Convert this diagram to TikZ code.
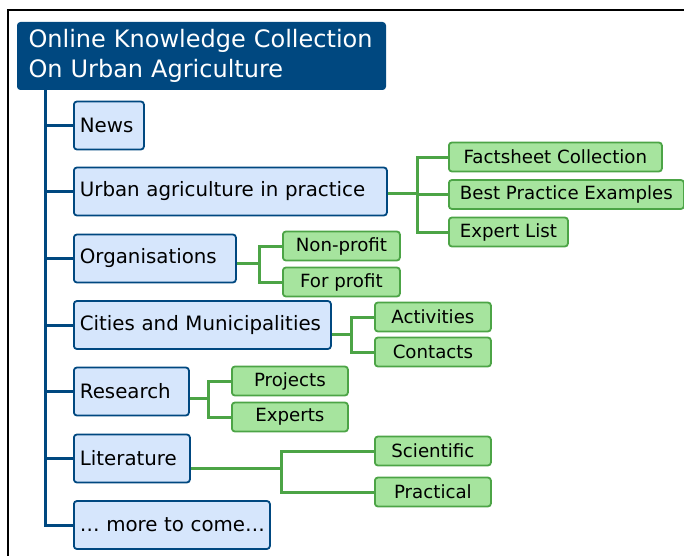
\documentclass[tikz,border=0pt]{standalone}
\usepackage{fontspec}
\setmainfont{DejaVu Sans}
\definecolor{navy}{RGB}{0,72,128}
\definecolor{paleblue}{RGB}{214,230,252}
\definecolor{leaf}{RGB}{166,228,158}
\definecolor{leafline}{RGB}{76,164,70}
\begin{document}
\begin{tikzpicture}[x=1pt,y=-1pt,
  titlebox/.style={draw=navy,fill=navy,text=white,rounded corners=3pt,line width=1pt,
    anchor=north west,inner xsep=11pt,inner ysep=0pt,align=left,
    font=\fontsize{24}{29.5}\selectfont},
  topic/.style={draw=navy,fill=paleblue,rounded corners=3pt,line width=1.8pt,
    anchor=west,inner sep=0pt,minimum height=48pt,font=\fontsize{19.8}{23}\selectfont},
  leafbox/.style={draw=leafline,fill=leaf,rounded corners=3pt,line width=1.8pt,
    anchor=west,inner sep=0pt,minimum height=29pt,font=\fontsize{18.2}{21}\selectfont},
  trunk/.style={draw=navy,line width=3pt},
  twig/.style={draw=leafline,line width=3pt}]
\useasboundingbox (0,0) rectangle (684,556);
% outer frame (top and left edges)
\draw[line width=1.8pt] (684,10) -- (8,10) -- (8,556);

% title
\node[titlebox,text width=346pt,minimum height=67pt] (title) at (17,22)
  {Online Knowledge Collection\\On Urban Agriculture};

% topic boxes: left-aligned text with fixed widths
\newcommand{\topicnode}[4]{%
  \node[topic,minimum width=#3pt,text width=#3pt-12pt,align=left,inner xsep=6pt] (#1) at (73,#2) {#4};}
\topicnode{news}{125.5}{70}{News}
\topicnode{urban}{191.5}{313}{Urban agriculture in practice}
\topicnode{org}{258.5}{162}{Organisations}
\topicnode{city}{325}{257}{Cities and Municipalities}
\topicnode{res}{391.5}{115}{Research}
\topicnode{lit}{458.5}{116}{Literature}
\topicnode{more}{525}{196}{\dots~more~to~come\dots}

% trunk from the title down to the last topic
\coordinate (tr) at (45,89);
\draw[trunk] (tr) |- (more.west);
\foreach \t in {news,urban,org,city,res,lit}
  \draw[trunk] (tr |- \t.west) -- (\t.west);

% leaves
\node[leafbox,minimum width=213pt] (fact) at (448,157) {Factsheet Collection};
\node[leafbox,minimum width=235pt] (best) at (448,194.5) {Best Practice Examples};
\node[leafbox,minimum width=119pt] (expl) at (448,232) {Expert List};
\node[leafbox,minimum width=117pt] (nonp) at (282,246) {Non-profit};
\node[leafbox,minimum width=117pt] (forp) at (282,282) {For profit};
\node[leafbox,minimum width=116pt] (act) at (374,317) {Activities};
\node[leafbox,minimum width=116pt] (con) at (374,352) {Contacts};
\node[leafbox,minimum width=116pt] (proj) at (231,381) {Projects};
\node[leafbox,minimum width=116pt] (expt) at (231,417) {Experts};
\node[leafbox,minimum width=116pt] (sci) at (374,451) {Scientific};
\node[leafbox,minimum width=116pt] (prac) at (374,492) {Practical};

% forks joining topics to their leaves
\coordinate (fu) at (417,193);
\draw[twig] (urban.east |- fu) -- (fu) (fact.west) -| (fu) |- (expl.west)
  (best.west) -- (best.west -| fu);
\coordinate (fo) at (259,263);
\draw[twig] (org.east |- fo) -- (fo) (nonp.west) -| (fo) |- (forp.west);
\coordinate (fc) at (351,334);
\draw[twig] (city.east |- fc) -- (fc) (act.west) -| (fc) |- (con.west);
\coordinate (fr) at (208,398);
\draw[twig] (res.east |- fr) -- (fr) (proj.west) -| (fr) |- (expt.west);
\coordinate (fl) at (281,468);
\draw[twig] (lit.east |- fl) -- (fl) (sci.west) -| (fl) |- (prac.west);
\end{tikzpicture}
\end{document}
